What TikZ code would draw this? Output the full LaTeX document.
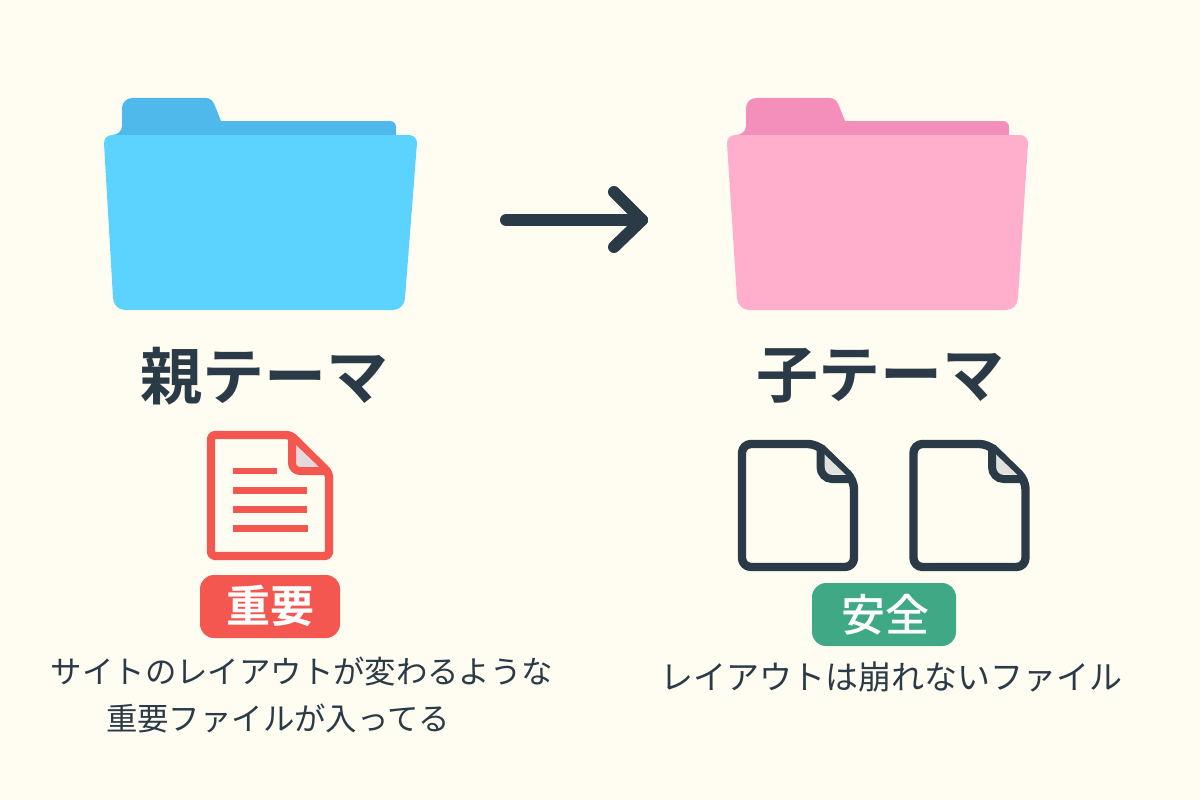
\documentclass[tikz,border=0pt]{standalone}
\usepackage{fontspec}
\setmainfont{Noto Sans CJK JP}
\newfontfamily\cjkb{Noto Sans CJK JP Bold}
\newfontfamily\cjkm{Noto Sans CJK JP Medium}
\definecolor{bgc}{HTML}{FFFDF2}
\definecolor{bluef}{HTML}{5CD2FF}
\definecolor{blueb}{HTML}{4FB9EC}
\definecolor{pinkf}{HTML}{FFAFCC}
\definecolor{pinkb}{HTML}{F48FBC}
\definecolor{redc}{HTML}{F4574F}
\definecolor{greenc}{HTML}{3FA985}
\definecolor{darkc}{HTML}{2A3B47}
\definecolor{foldr}{HTML}{E8D8DC}
\definecolor{foldd}{HTML}{E0E0DE}
\tikzset{
  x=1pt,y=-1pt,
  titletxt/.style={font=\cjkb\fontsize{62}{62}\selectfont,text=darkc,inner sep=0pt},
  captxt/.style={font=\fontsize{31.4}{32}\selectfont,text=darkc,inner sep=0pt},
  badgetxt/.style={text=white,inner sep=0pt},
  docline/.style={redc,line width=6.5pt},
  docout/.style={line width=8.4pt,line join=round,fill=bgc},
}
\begin{document}
\begin{tikzpicture}
\useasboundingbox (0,0) rectangle (1200,800);
\fill[bgc] (0,0) rectangle (1200,800);
% blue folder
\fill[blueb] (112,140) -- (112,135) to[out=0,in=-90] (122,126) -- (122,108) to[out=90,in=180] (132,98) -- (206,98) to[out=0,in=110] (215,106) -- (221,121) -- (390,121) to[out=0,in=90] (396,127) -- (396,140) -- cycle;
\fill[bluef] (104,143) to[out=90,in=180] (112,135) -- (409,135) to[out=0,in=90] (417,143) -- (405,298) to[out=-92,in=0] (393,310) -- (125,310) to[out=180,in=-88] (113,298) -- cycle;
% pink folder
\fill[pinkb] (736,140) -- (736,135) to[out=0,in=-90] (746,126) -- (746,108) to[out=90,in=180] (756,98) -- (830,98) to[out=0,in=110] (839,106) -- (845,121) -- (1003,121) to[out=0,in=90] (1009,127) -- (1009,140) -- cycle;
\fill[pinkf] (727,143) to[out=90,in=180] (735,135) -- (1020,135) to[out=0,in=90] (1028,143) -- (1018,298) to[out=-92,in=0] (1006,310) -- (749,310) to[out=180,in=-88] (737,298) -- cycle;
% arrow
\coordinate (arrS) at (506,220);
\coordinate (arrE) at (642,220);
\coordinate (arrU) at (614,192);
\coordinate (arrD) at (614,247);
\draw[darkc,line width=12pt,line cap=round,line join=round] (arrS) -- (arrE);
\draw[darkc,line width=12pt,line cap=round,line join=round] (arrU) -- (arrE) -- (arrD);
% titles
\node[titletxt] (tp) at (264,376) {親テーマ};
\node[titletxt] (tc) at (880,376) {子テーマ};
% red document
\draw[redc,docout,rounded corners=4pt] (211,435) -- (290.5,435) -- (329,473) -- (329,556) -- (211,556) -- cycle;
\fill[foldr] (296,445) -- (296,467) -- (319,467) -- cycle;
\draw[redc,line width=8pt,line join=round] (292,436) -- (292,463) to[out=-90,in=180] (300,471) -- (328,471);
\draw[docline] (233,471) -- (277,471);
\draw[docline] (233,490.5) -- (307,490.5);
\draw[docline] (233,509.5) -- (307,509.5);
\draw[docline] (233,528.5) -- (308,528.5);
% red badge
\fill[redc,rounded corners=14pt] (200,575) rectangle (340,638);
\node[badgetxt,font=\cjkb\fontsize{44}{44}\selectfont] (bj) at (270,606) {重要};
% dark documents
\foreach \dx in {0,171.5}{
  \begin{scope}[xshift=\dx pt]
  \draw[darkc,docout,rounded corners=9pt] (742,444) -- (817,444) -- (854,480) -- (854,567) -- (742,567) -- cycle;
  \fill[foldd] (824,454) -- (824,474) -- (846,475) -- cycle;
  \draw[darkc,line width=8pt] (820.5,445) -- (820.5,467) to[out=-90,in=180] (832,479) -- (853,479);
  \end{scope}
}
% green badge
\fill[greenc,rounded corners=14pt] (812,583) rectangle (956,646);
\node[badgetxt,font=\cjkm\fontsize{44}{44}\selectfont] (bs) at (885,615) {安全};
% captions
\node[captxt] (c1) at (302,672) {サイトのレイアウトが変わるような};
\node[captxt] (c2) at (278,718) {重要ファイルが入ってる};
\node[captxt,font=\fontsize{33}{33}\selectfont] (c3) at (891,677) {レイアウトは崩れないファイル};
\end{tikzpicture}
\end{document}
